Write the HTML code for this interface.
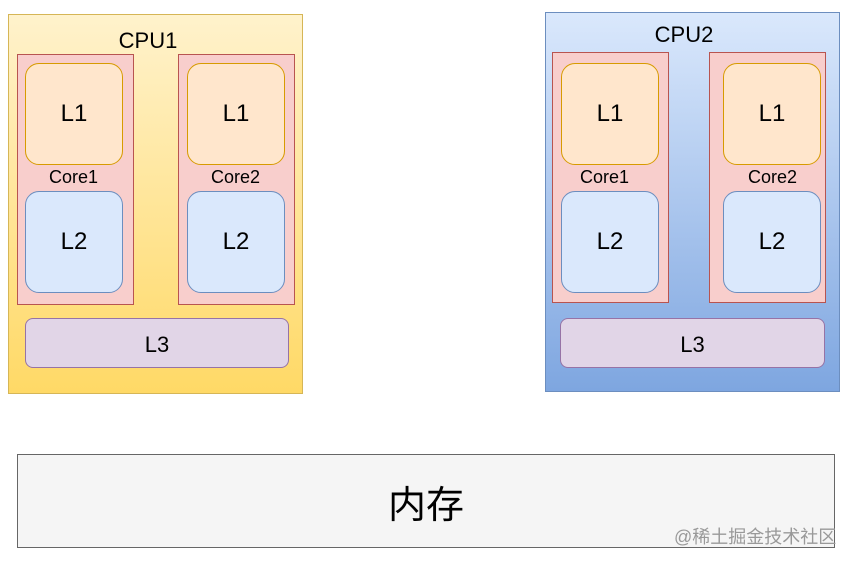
<!DOCTYPE html>
<html><head><meta charset="utf-8"><style>
body{margin:0;width:854px;height:562px;background:#fff;position:relative;overflow:hidden;font-family:"Liberation Sans","Noto Sans CJK SC",sans-serif;color:#000}
div{position:absolute;box-sizing:border-box}
.c{display:flex;align-items:center;justify-content:center}
.cpu1{left:8px;top:14px;width:295px;height:380px;border:1px solid #d6b656;background:linear-gradient(#fff2cc,#ffd966)}
.cpu2{left:545px;top:12px;width:295px;height:380px;border:1px solid #6c8ebf;background:linear-gradient(#dae8fc,#7ea6e0)}
.core{width:117px;height:251px;border:1px solid #b85450;background:#f8cecc}
.l1{width:98px;height:102px;border:1px solid #d79b00;background:#ffe6cc;border-radius:14px;font-size:24px}
.l2{width:98px;height:102px;border:1px solid #6c8ebf;background:#dae8fc;border-radius:14px;font-size:24px}
.l3{height:50px;border:1px solid #9673a6;background:#e1d5e7;border-radius:8px;font-size:22px;padding-top:4px}
.lab{font-size:18px;width:117px;text-align:center}
.t{font-size:22px;text-align:center}
</style></head><body>
<div class="cpu1"></div>
<div class="t" style="left:88px;top:28px;width:120px">CPU1</div>
<div class="core" style="left:17px;top:54px"></div>
<div class="core" style="left:178px;top:54px"></div>
<div class="l1 c" style="left:25px;top:63px">L1</div>
<div class="l1 c" style="left:187px;top:63px">L1</div>
<div class="lab" style="left:15px;top:167px">Core1</div>
<div class="lab" style="left:177px;top:167px">Core2</div>
<div class="l2 c" style="left:25px;top:191px">L2</div>
<div class="l2 c" style="left:187px;top:191px">L2</div>
<div class="l3 c" style="left:25px;top:318px;width:264px">L3</div>

<div class="cpu2"></div>
<div class="t" style="left:624px;top:22px;width:120px">CPU2</div>
<div class="core" style="left:552px;top:52px"></div>
<div class="core" style="left:709px;top:52px"></div>
<div class="l1 c" style="left:561px;top:63px">L1</div>
<div class="l1 c" style="left:723px;top:63px">L1</div>
<div class="lab" style="left:546px;top:167px">Core1</div>
<div class="lab" style="left:714px;top:167px">Core2</div>
<div class="l2 c" style="left:561px;top:191px">L2</div>
<div class="l2 c" style="left:723px;top:191px">L2</div>
<div class="l3 c" style="left:560px;top:318px;width:265px">L3</div>

<div class="c" style="left:17px;top:454px;width:818px;height:94px;border:1px solid #666;background:#f5f5f5;font-size:38px">内存</div>
<div style="left:674px;top:523px;font-size:18px;color:#999;white-space:nowrap">@稀土掘金技术社区</div>
</body></html>
